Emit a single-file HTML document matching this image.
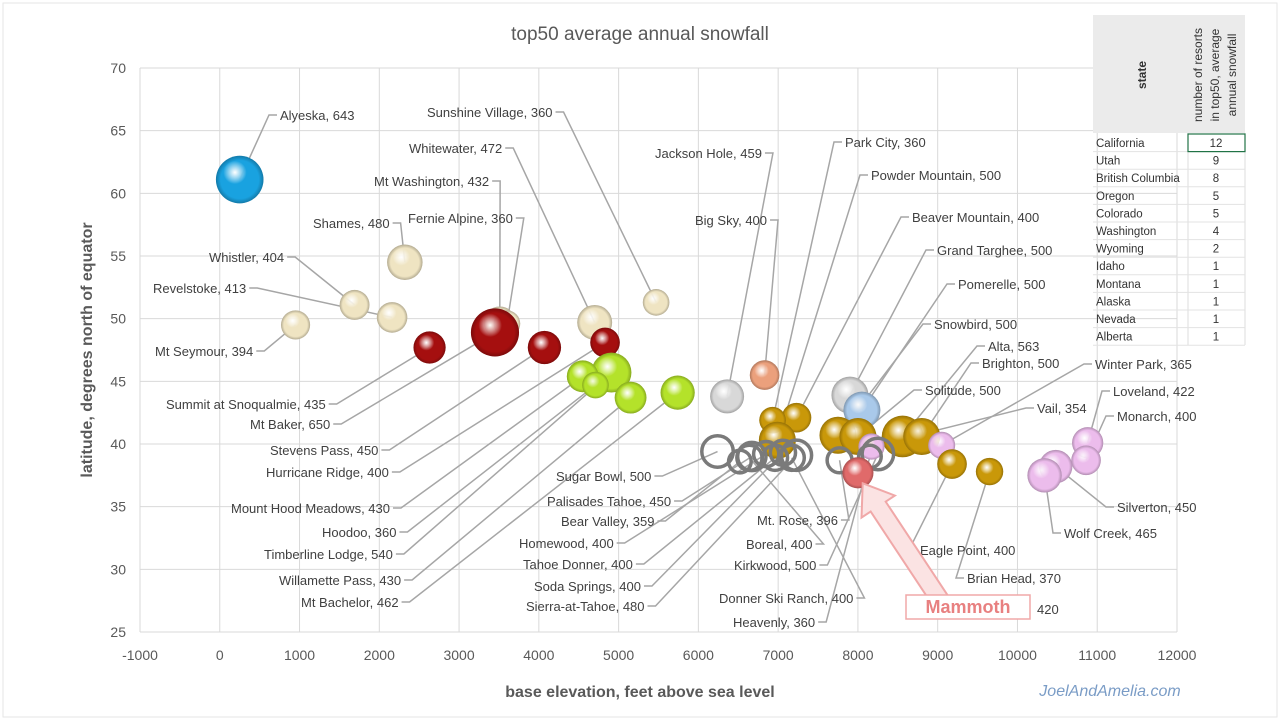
<!DOCTYPE html>
<html><head><meta charset="utf-8">
<style>
body{margin:0;background:#fff;font-family:"Liberation Sans",sans-serif}
#wrap{position:relative;width:1280px;height:720px;overflow:hidden;background:#fff}
svg text{font-family:"Liberation Sans",sans-serif}
</style></head>
<body>
<div id="wrap">
<svg id="chart" width="1280" height="720">
<defs id="defs"></defs>
<rect x="3" y="3" width="1274" height="714" fill="none" stroke="#e6e6e6"/>
<text x="640" y="40" text-anchor="middle" font-size="19" fill="#595959">top50 average annual snowfall</text>
<g id="grid"></g><g id="leaders"></g><g id="bubbles"></g><g id="labels"></g>
<text x="640" y="697" text-anchor="middle" font-size="16" font-weight="bold" fill="#595959">base elevation, feet above sea level</text>
<text transform="translate(92,350) rotate(-90)" text-anchor="middle" font-size="16" font-weight="bold" fill="#595959">latitude, degrees north of equator</text>
<text x="1110" y="696" text-anchor="middle" font-size="16" font-style="italic" fill="#7a9cc6">JoelAndAmelia.com</text>
<g>
<path d="M0,-9 L-112,-9 L-112,-20 L-140,0 L-112,20 L-112,9 L0,9 Z" transform="translate(940,600) rotate(56.5)" fill="#fbe3e3" stroke="#f0a8a8" stroke-width="2"/>
</g>
<rect x="906" y="595" width="124" height="24" fill="#fff" stroke="#f0a8a8" stroke-width="1.5"/>
<text x="968" y="613" text-anchor="middle" font-size="18" font-weight="bold" fill="#e88080">Mammoth</text>
<text x="1037" y="614" font-size="13" fill="#404040">420</text>
<g id="table"></g>
</svg>
</div>
<script>
const xTicks=[-1000,0,1000,2000,3000,4000,5000,6000,7000,8000,9000,10000,11000,12000];
const yTicks=[25,30,35,40,45,50,55,60,65,70];
const names=["Alyeska","Shames","Whistler","Revelstoke","Mt Seymour","Mt Washington","Mt Baker","Fernie Alpine","Whitewater","Sunshine Village","Summit at Snoqualmie","Stevens Pass","Hurricane Ridge","Mount Hood Meadows","Hoodoo","Timberline Lodge","Willamette Pass","Mt Bachelor","Jackson Hole","Big Sky","Grand Targhee","Pomerelle","Park City","Beaver Mountain","Powder Mountain","Snowbird","Solitude","Alta","Brighton","Eagle Point","Brian Head","Vail","Winter Park","Loveland","Monarch","Silverton","Wolf Creek","Mammoth","Sugar Bowl","Palisades Tahoe","Bear Valley","Homewood","Tahoe Donner","Soda Springs","Sierra-at-Tahoe","Boreal","Kirkwood","Donner Ski Ranch","Heavenly","Mt. Rose"];
const elevation=[250,2320,1690,2160,950,3510,3450,3600,4700,5470,2630,4070,4830,4550,4710,4910,5150,5740,6360,6830,7900,8050,6930,7230,6990,7750,8000,8560,8800,9180,9650,8170,9050,10880,10860,10480,10340,8000,6240,6670,6520,6850,6960,7060,7230,6640,8250,7170,8150,7770];
const latitude=[61.1,54.5,51.1,50.1,49.5,49.7,48.9,49.6,49.7,51.3,47.7,47.7,48.1,45.4,44.7,45.7,43.7,44.1,43.8,45.5,43.9,42.7,41.9,42.1,40.3,40.7,40.6,40.6,40.6,38.4,37.8,39.8,39.9,40.1,38.7,38.2,37.5,37.7,39.4,39.0,38.6,39.2,38.9,39.3,39.1,38.9,39.2,38.9,39.0,38.7];
const snowfall=[643,480,404,413,394,432,650,360,472,360,435,450,400,430,360,540,430,462,459,400,500,500,360,400,500,500,500,563,500,400,370,354,365,422,400,450,465,420,500,450,359,400,400,400,480,400,500,400,360,396];
const group=["AK","BC","BC","BC","BC","BC","WA","BC","BC","AB","WA","WA","WA","OR","OR","OR","OR","OR","WY","MT","WY","ID","UT","UT","UT","UT","UT","UT","UT","UT","UT","CO","CO","CO","CO","CO","CO","MAM","CA","CA","CA","CA","CA","CA","CA","CA","CA","CA","CA","NV"];
// label text anchors (pixel) : [x, y, side] side 'L' line from start, 'R' line from end
const labelPos=[[280,120,'L'],[313,228,'R'],[209,262,'R'],[153,293,'R'],[155,356,'R'],[374,186,'R'],[250,429,'R'],[408,223,'R'],[409,153,'R'],[427,117,'R'],[166,409,'R'],[270,455,'R'],[266,477,'R'],[231,513,'R'],[322,537,'R'],[264,559,'R'],[279,585,'R'],[301,607,'R'],[655,158,'R'],[695,225,'R'],[937,255,'L'],[958,289,'L'],[845,147,'L'],[912,222,'L'],[871,180,'L'],[934,329,'L'],[925,395,'L'],[988,351,'L'],[982,368,'L'],[920,555,'L'],[967,583,'L'],[1037,413,'L'],[1095,369,'L'],[1113,396,'L'],[1117,421,'L'],[1117,512,'L'],[1064,538,'L'],null,[556,481,'R'],[547,506,'R'],[561,526,'R'],[519,548,'R'],[523,569,'R'],[534,591,'R'],[526,611,'R'],[746,549,'R'],[734,570,'R'],[719,603,'R'],[733,627,'R'],[757,525,'R']];
const colors={AK:"#19a2e0",BC:"#efe4c2",AB:"#efe4c2",WA:"#a50f0f",OR:"#b4e22a",WY:"#d8d8d8",MT:"#eba07c",ID:"#a9c9ea",UT:"#c99809",CO:"#ecbcec",MAM:"#e06a6a"};
const tStates=["California","Utah","British Columbia","Oregon","Colorado","Washington","Wyoming","Idaho","Montana","Alaska","Nevada","Alberta"];
const tCounts=[12,9,8,5,5,4,2,1,1,1,1,1];

const NS="http://www.w3.org/2000/svg";
const X0=140,X1=1177,Y0=632,Y1=68;
const sx=v=>X0+(v-(-1000))/13000*(X1-X0);
const sy=v=>Y0-(v-25)/45*(Y0-Y1);
const rr=s=>s*0.037;
function mk(tag,attrs,parent){const e=document.createElementNS(NS,tag);for(const k in attrs)e.setAttribute(k,attrs[k]);parent.appendChild(e);return e;}
const grid=document.getElementById('grid');
xTicks.forEach(t=>{
  const l=mk('line',{x1:sx(t),x2:sx(t),y1:Y1,y2:Y0,stroke:'#d9d9d9','stroke-width':1},grid);
  
  
  const tx=mk('text',{x:sx(t),y:Y0+28,'text-anchor':'middle','font-size':14,fill:'#595959'},grid);
  tx.textContent=t;
  
  
});
yTicks.forEach(t=>{
  const l=mk('line',{x1:X0,x2:X1,y1:sy(t),y2:sy(t),stroke:'#d9d9d9','stroke-width':1},grid);
  
  
  const tx=mk('text',{x:X0-14,y:sy(t)+5,'text-anchor':'end','font-size':14,fill:'#595959'},grid);
  tx.textContent=t;
  
  
});
const defs=document.getElementById('defs');
for(const g in colors){
  const rg=mk('radialGradient',{id:'g'+g,cx:'40%',cy:'35%',r:'70%'},defs);
  mk('stop',{offset:'0%','stop-color':'#ffffff','stop-opacity':0.85},rg);
  mk('stop',{offset:'35%','stop-color':colors[g]},rg);
  mk('stop',{offset:'100%','stop-color':colors[g],'stop-opacity':1},rg);
  const rg2=mk('radialGradient',{id:'s'+g,cx:'50%',cy:'50%',r:'50%'},defs);
  mk('stop',{offset:'80%','stop-color':'#000','stop-opacity':0},rg2);
  mk('stop',{offset:'100%','stop-color':'#000','stop-opacity':0.25},rg2);
}
const B=document.getElementById('bubbles'),L=document.getElementById('leaders'),T=document.getElementById('labels');
const order=names.map((n,i)=>i).sort((a,b)=>latitude[b]-latitude[a]);
order.forEach(i=>{
  const cx=sx(elevation[i]),cy=sy(latitude[i]),r=rr(snowfall[i]),g=group[i];
  if(g==='CA'||g==='NV'){
    const c=mk('circle',{cx,cy,r:r*0.85,fill:'none',stroke:'#7a7a7a','stroke-width':3.5},B);
    
    
  } else {
    const c=mk('circle',{cx,cy,r,fill:'url(#g'+g+')'},B);
    
    
    mk('circle',{cx,cy,r,fill:'url(#s'+g+')'},B);
  }
});
names.forEach((n,i)=>{
  const p=labelPos[i]; if(!p) return;
  const tx=mk('text',{x:p[0],y:p[1],'font-size':13,fill:'#404040'},T);
  tx.textContent=n+', '+snowfall[i];
  
  
  const w=tx.getComputedTextLength();
  const cx=sx(elevation[i]),cy=sy(latitude[i]);
  let x0,x1;
  if(p[2]==='R'){x0=p[0]+w+3;x1=x0+8;}else{x0=p[0]-3;x1=x0-8;}
  const ly=p[1]-5;
  const pl=mk('polyline',{points:`${x0},${ly} ${x1},${ly} ${cx},${cy}`,fill:'none',stroke:'#a6a6a6','stroke-width':1.5},L);
  
  
});
// table
const TB=document.getElementById('table');
mk('rect',{x:1093,y:15,width:152,height:118,fill:'#ebebeb'},TB);
const h1=mk('text',{transform:'translate(1146,75) rotate(-90)','text-anchor':'middle','font-size':12,'font-weight':'bold',fill:'#333'},TB);h1.textContent='state';


['number of resorts','in top50, average','annual snowfall'].forEach((s,k)=>{
  const h=mk('text',{transform:`translate(${1202+k*17},75) rotate(-90)`,'text-anchor':'middle','font-size':12,fill:'#333'},TB);h.textContent=s;
  
  
});
mk('line',{x1:1188,x2:1188,y1:133,y2:345,stroke:'#dcdcdc'},TB);
mk('line',{x1:1245,x2:1245,y1:133,y2:345,stroke:'#dcdcdc'},TB);
tStates.forEach((s,k)=>{
  const y=134+k*17.6;
  mk('line',{x1:1093,x2:1245,y1:y+17.6,y2:y+17.6,stroke:'#e3e3e3'},TB);
  const a=mk('text',{x:1096,y:y+13,'font-size':11.5,fill:'#333'},TB);a.textContent=s;
  
  
  const b=mk('text',{x:1216,y:y+13,'font-size':11.5,fill:'#333','text-anchor':'middle'},TB);b.textContent=tCounts[k];
  
  
});
mk('rect',{x:1188,y:134,width:57,height:17.6,fill:'none',stroke:'#217346','stroke-width':1.2},TB);
</script>
</body></html>
